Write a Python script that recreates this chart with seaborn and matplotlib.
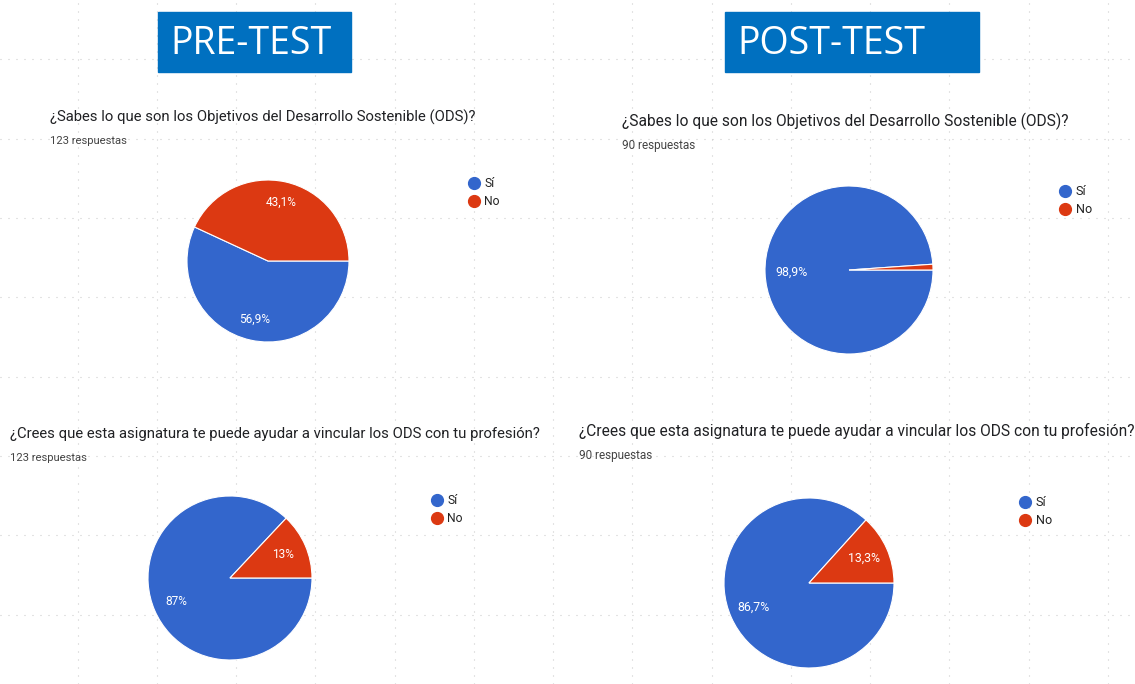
import matplotlib.pyplot as plt
import seaborn as sns
from matplotlib.lines import Line2D
from matplotlib.patches import Rectangle

# survey answers, percent of responses (Sí, No)
labels = ["Sí", "No"]
pre_ods = [56.9, 43.1]
post_ods = [98.9, 1.1]
pre_prof = [87.0, 13.0]
post_prof = [86.7, 13.3]
responses = [123, 90, 123, 90]
q_ods = "¿Sabes lo que son los Objetivos del Desarrollo Sostenible (ODS)?"
q_prof = "¿Crees que esta asignatura te puede ayudar a vincular los ODS con tu profesión?"
headers = ["PRE-TEST", "POST-TEST"]

W, H = 1135, 684

sns.set_theme(style="white")
plt.rcParams["font.family"] = ["Roboto", "DejaVu Sans"]
colors = sns.color_palette(["#3366CC", "#DC3912"])


def fmt_pct(p):
    # google forms style: comma decimal, no label on tiny slices
    if p < 5:
        return ""
    s = f"{p:.1f}".replace(".", ",")
    if s.endswith(",0"):
        s = s[:-2]
    return s + "%"


fig = plt.figure(figsize=(W / 100, H / 100), dpi=100)
bg = fig.add_axes([0, 0, 1, 1])
bg.set_xlim(0, W)
bg.set_ylim(H, 0)
bg.axis("off")

# dotted slide grid in the background
grid_kw = dict(color="#c8c8c8", lw=0.8, dashes=(0.9, 6.3), zorder=0)
x = 77.7
while x < W:
    bg.axvline(x, **grid_kw)
    x += 79.25
y = 59.4
while y < H:
    bg.axhline(y, **grid_kw)
    y += 79.3

# header boxes
boxes = [(158, 12, 193, 60), (725, 12, 254, 60)]
for text, (bx, by, bw, bh) in zip(headers, boxes):
    bg.add_patch(Rectangle((bx, by), bw, bh, color="#0070C0", zorder=2))
    bg.text(bx + 12, by + bh / 2 + 2, text, color="white", fontsize=27,
            va="center", ha="left", zorder=3, family="Open Sans")

# panel layout: title pos, pie center/radius, legend pos (pixels), text scale
panels = [
    dict(q=q_ods, vals=pre_ods, n=responses[0], tx=50, ty=117, cx=268, cy=261, r=81, lx=474, ly=184, pd=0.74, s=1.0),
    dict(q=q_ods, vals=post_ods, n=responses[1], tx=622, ty=121, cx=849, cy=270, r=84, lx=1065, ly=192, pd=0.68, s=1.04),
    dict(q=q_prof, vals=pre_prof, n=responses[2], tx=10, ty=434, cx=230, cy=578, r=82, lx=437, ly=501, pd=0.71, s=1.0),
    dict(q=q_prof, vals=post_prof, n=responses[3], tx=579, ty=431, cx=809, cy=583, r=85, lx=1025, ly=503, pd=0.71, s=1.04),
]

handles = [Line2D([], [], marker="o", linestyle="", markersize=8.5, color=c) for c in colors]

for p in panels:
    s = p["s"]
    bg.text(p["tx"], p["ty"], p["q"], fontsize=10.75 * s, color="#202124", va="center", ha="left", zorder=3)
    bg.text(p["tx"], p["ty"] + 24 * s, f"{p['n']} respuestas", fontsize=8.1 * s, color="#444444",
            va="center", ha="left", zorder=3)

    pad = 1.04
    r = p["r"] * pad
    ax = fig.add_axes([(p["cx"] - r) / W, 1 - (p["cy"] + r) / H, 2 * r / W, 2 * r / H])
    ax.pie(p["vals"], colors=colors, startangle=0, counterclock=False,
           autopct=fmt_pct, pctdistance=p["pd"],
           wedgeprops=dict(edgecolor="white", linewidth=0.8),
           textprops=dict(color="white", fontsize=8.6 * s))
    ax.set_xlim(-pad, pad)
    ax.set_ylim(-pad, pad)
    ax.axis("off")

    leg_fs = 8.7 * s
    leg_px = leg_fs * 100 / 72
    ax.legend(handles, labels, loc="upper left",
              bbox_to_anchor=((p["lx"] - 0.4 * leg_px) / W, 1 - (p["ly"] - 7) / H),
              bbox_transform=fig.transFigure, frameon=False, fontsize=leg_fs,
              handlelength=0.8, handletextpad=0.45, labelspacing=0.4,
              borderpad=0, borderaxespad=0, labelcolor="#222222")

fig.savefig("out.png", dpi=100, facecolor="white")
